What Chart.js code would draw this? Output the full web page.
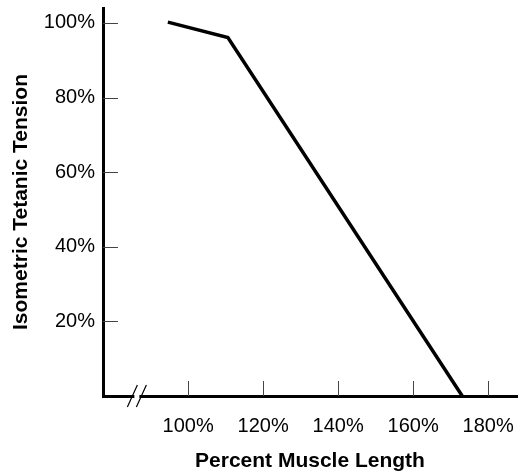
<!DOCTYPE html>
<html>
<head>
<meta charset="utf-8">
<script src="https://cdn.jsdelivr.net/npm/chart.js@4/dist/chart.umd.min.js"></script>
<style>
  body { margin: 0; background: #fff; }
  canvas { display: block; }
</style>
</head>
<body>
<canvas id="tensionChart" width="523" height="475"></canvas>
<script>
// Datos
const muscleLength = [94.6, 110.6, 173.1];
const tetanicTension = [100.2, 96.1, 0];
const xTickValues = [100, 120, 140, 160, 180];
const yTickValues = [20, 40, 60, 80, 100];

const FONT = '"Liberation Sans", Arial, Helvetica, sans-serif';

// Sin márgenes extra por las etiquetas de los extremos
function fixPadding(s) {
    s.paddingTop = 0;
    s.paddingBottom = 0;
    s.paddingLeft = 0;
    s.paddingRight = 0;
}

// Marcas de escala hacia dentro y el corte del eje
const axisMarks = {
    id: 'axisMarks',
    afterDraw(chart) {
        const ctx = chart.ctx;
        const area = chart.chartArea;
        const xs = chart.scales.x;
        const ys = chart.scales.y;
        ctx.save();
        ctx.strokeStyle = '#444';
        ctx.lineWidth = 1;
        ctx.beginPath();
        xs.ticks.forEach(t => {
            const px = Math.round(xs.getPixelForValue(t.value)) + 0.5;
            ctx.moveTo(px, area.bottom);
            ctx.lineTo(px, area.bottom - 15);
        });
        ys.ticks.forEach(t => {
            const py = Math.round(ys.getPixelForValue(t.value)) + 0.5;
            ctx.moveTo(area.left, py);
            ctx.lineTo(area.left + 15, py);
        });
        ctx.stroke();

        // corte "//"
        const cx = xs.getPixelForValue(86.2);
        const by = area.bottom;
        ctx.fillStyle = '#fff';
        ctx.fillRect(cx - 2, by - 3, 5, 6);
        ctx.strokeStyle = '#000';
        ctx.lineWidth = 1.2;
        ctx.beginPath();
        ctx.moveTo(cx - 9, by + 11);
        ctx.lineTo(cx + 1, by - 11);
        ctx.moveTo(cx + 0, by + 11);
        ctx.lineTo(cx + 10, by - 11);
        ctx.stroke();
        ctx.restore();
    }
};

const ctx = document.getElementById('tensionChart').getContext('2d');
new Chart(ctx, {
    type: 'scatter',
    data: {
        datasets: [{
            data: muscleLength.map((v, i) => ({ x: v, y: tetanicTension[i] })),
            showLine: true,
            borderColor: '#000',
            borderWidth: 3.5,
            pointRadius: 0,
            tension: 0,
            clip: false
        }]
    },
    options: {
        responsive: false,
        animation: false,
        layout: { padding: { left: 0, top: 8, right: 6, bottom: 0 } },
        plugins: {
            legend: { display: false },
            tooltip: { enabled: false }
        },
        scales: {
            x: {
                type: 'linear',
                min: 77.3,
                max: 187.7,
                afterBuildTicks: s => { s.ticks = xTickValues.map(v => ({ value: v })); },
                afterFit: s => { s.height = 79; fixPadding(s); },
                grid: { drawOnChartArea: false, drawTicks: false },
                border: { color: '#000', width: 3 },
                ticks: {
                    color: '#000',
                    padding: 18,
                    maxRotation: 0,
                    font: { family: FONT, size: 20 },
                    callback: v => v + '%'
                },
                title: {
                    display: true,
                    text: 'Percent Muscle Length',
                    color: '#000',
                    font: { family: FONT, size: 21, weight: 'bold' },
                    padding: { top: 0, bottom: 1 }
                }
            },
            y: {
                type: 'linear',
                min: 0,
                max: 104,
                afterBuildTicks: s => { s.ticks = yTickValues.map(v => ({ value: v })); },
                afterFit: s => { s.width = 103; fixPadding(s); },
                grid: { drawOnChartArea: false, drawTicks: false },
                border: { color: '#000', width: 3 },
                ticks: {
                    color: '#000',
                    padding: 8,
                    font: { family: FONT, size: 20 },
                    callback: v => v + '%'
                },
                title: {
                    display: true,
                    text: 'Isometric Tetanic Tension',
                    color: '#000',
                    font: { family: FONT, size: 21, weight: 'bold' },
                    padding: { top: 9, bottom: 0 }
                }
            }
        }
    },
    plugins: [axisMarks]
});
</script>
</body>
</html>
